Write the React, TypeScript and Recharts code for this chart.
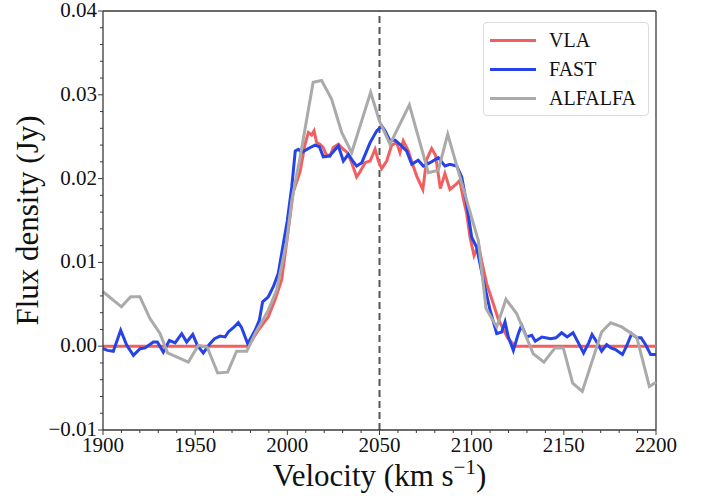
import React from 'react'
import { LineChart, Line, XAxis, YAxis, ReferenceLine } from 'recharts'

// VLA spectrum (km/s, Jy)
const vlaVel = [1900, 1978.8, 1984.2, 1989.7, 1993.3, 1996.9, 2000.5, 2003.2, 2006.9, 2009.6, 2011.4, 2013.2, 2014.5, 2015.9, 2017.7, 2019.5, 2021, 2023.2, 2024.9, 2027.7, 2030.4, 2032.6, 2034.9, 2037.6, 2039.4, 2042.2, 2044.9, 2047.6, 2049.4, 2051.2, 2053.9, 2056.6, 2059.3, 2061.1, 2062.9, 2065.7, 2067.5, 2070.2, 2073.5, 2075.6, 2078.3, 2080.4, 2083, 2085.5, 2088.2, 2091.9, 2093.5, 2095.5, 2097.3, 2099.1, 2101.3, 2103.8, 2105.4, 2108.1, 2111.7, 2114.5, 2117.2, 2119.5, 2123.5, 2200]
const vlaFlux = [0, 0, 0.0019, 0.0035, 0.0055, 0.0079, 0.0138, 0.0184, 0.0208, 0.0241, 0.0255, 0.0252, 0.0257, 0.0243, 0.0241, 0.0237, 0.0229, 0.0227, 0.0237, 0.0241, 0.0235, 0.0231, 0.0219, 0.0202, 0.0208, 0.0219, 0.0221, 0.0235, 0.0221, 0.0212, 0.0221, 0.024, 0.0243, 0.0231, 0.0245, 0.0233, 0.022, 0.0203, 0.0187, 0.0223, 0.0236, 0.0228, 0.0188, 0.0206, 0.0187, 0.0194, 0.0198, 0.0176, 0.0158, 0.013, 0.0108, 0.0121, 0.0102, 0.0075, 0.0051, 0.0032, 0.002, 0.001, 0, 0]

// FAST spectrum
const fastVel = [1900, 1902.5, 1905.6, 1909.6, 1912.9, 1916.5, 1920.1, 1922.8, 1927.3, 1929.5, 1932.7, 1936, 1939.1, 1942.7, 1945.4, 1948.7, 1951.2, 1954.4, 1958, 1960.5, 1963.5, 1966.2, 1968, 1970.7, 1973.4, 1975.2, 1978.5, 1982.5, 1984.8, 1986.6, 1989.7, 1992.4, 1995.1, 1997.5, 2000, 2002.4, 2004.3, 2006, 2007.8, 2011.4, 2015, 2017.4, 2019.5, 2022.8, 2027.7, 2030.4, 2033.1, 2034.9, 2037.6, 2040.4, 2044.9, 2048.5, 2051.2, 2053, 2055.7, 2058.4, 2062, 2064.7, 2067.5, 2071, 2073.8, 2077.4, 2081.9, 2085.5, 2088.2, 2091.9, 2094.6, 2097.3, 2100, 2102.7, 2106.3, 2110, 2113.6, 2116.3, 2118.1, 2119.9, 2122.6, 2125.3, 2127.1, 2129.8, 2132.6, 2134.5, 2138.1, 2142.9, 2145.7, 2148.8, 2151.8, 2155, 2157.9, 2160.7, 2163.5, 2165.3, 2167.6, 2170.5, 2173.2, 2175.6, 2178, 2181.8, 2184, 2186.8, 2189.6, 2191.9, 2194.3, 2197.1, 2200]
const fastFlux = [-0.0003, -0.0005, -0.0006, 0.0019, 0.0001, -0.0011, -0.0003, -0.0002, 0.0005, 0.0005, -0.0007, 0.0007, 0.0004, 0.0015, 0.0005, 0.0014, 0.0001, -0.0008, 0.0003, 0.0009, 0.0012, 0.0011, 0.0017, 0.0022, 0.0028, 0.0022, 0.0003, 0.0019, 0.0031, 0.0053, 0.0059, 0.0071, 0.0087, 0.0118, 0.015, 0.019, 0.0233, 0.0235, 0.0231, 0.0236, 0.024, 0.0238, 0.0226, 0.0227, 0.0239, 0.0221, 0.0229, 0.0223, 0.0215, 0.0219, 0.0243, 0.0257, 0.0263, 0.0257, 0.0245, 0.0246, 0.0239, 0.0233, 0.0217, 0.0222, 0.0215, 0.0219, 0.0225, 0.0215, 0.0217, 0.0215, 0.0202, 0.017, 0.013, 0.0118, 0.0079, 0.0043, 0.0015, 0.0017, 0.0029, 0.0011, -0.0005, 0.0015, 0.0025, 0.0011, 0.0013, 0.0006, 0.0011, 0.0009, 0.001, 0.0016, 0.0011, 0.0016, 0.0004, -0.0008, 0.0004, 0.0014, 0.0006, -0.0006, 0.0002, -0.0002, -0.0004, -0.001, 0, 0.0015, 0.001, 0.001, 0.0002, -0.001, -0.001]

// ALFALFA spectrum
const alfaVel = [1900, 1910, 1915, 1920, 1925.5, 1931, 1935, 1946.3, 1951.7, 1956.5, 1962.2, 1967.6, 1972.5, 1978, 1982.5, 1989.7, 1994.2, 1999.6, 2002.4, 2006.9, 2014, 2018.6, 2024, 2029.5, 2034.9, 2045.2, 2049.9, 2055.7, 2066.2, 2076.5, 2081.9, 2087, 2097.3, 2103.6, 2107.8, 2113.6, 2118.6, 2124.4, 2133.4, 2139.2, 2145.2, 2149.7, 2154.8, 2160, 2170.5, 2175.4, 2181.4, 2189.5, 2196.4, 2200]
const alfaFlux = [0.0065, 0.0047, 0.0059, 0.0059, 0.0033, 0.0015, -0.0008, -0.0019, 0.0001, -0.0001, -0.0032, -0.0031, -0.0006, -0.0006, 0.0015, 0.0043, 0.0067, 0.0125, 0.0174, 0.0225, 0.0315, 0.0317, 0.0295, 0.0255, 0.0231, 0.0303, 0.0269, 0.0241, 0.0288, 0.0207, 0.021, 0.0253, 0.0174, 0.0126, 0.0045, 0.0023, 0.0056, 0.0039, -0.0009, -0.0019, -0.0002, -0.0002, -0.0044, -0.0054, 0.0017, 0.0028, 0.0023, 0.0011, -0.0048, -0.0043]

const xTicks = [1900, 1910, 1920, 1930, 1940, 1950, 1960, 1970, 1980, 1990, 2000, 2010, 2020, 2030, 2040, 2050, 2060, 2070, 2080, 2090, 2100, 2110, 2120, 2130, 2140, 2150, 2160, 2170, 2180, 2190, 2200]
const xMajor = [1900, 1950, 2000, 2050, 2100, 2150, 2200]
const yTicks = [-0.01, -0.008, -0.006, -0.004, -0.002, 0, 0.002, 0.004, 0.006, 0.008, 0.01, 0.012, 0.014, 0.016, 0.018, 0.02, 0.022, 0.024, 0.026, 0.028, 0.03, 0.032, 0.034, 0.036, 0.038, 0.04]
const yMajor = [-0.01, 0, 0.01, 0.02, 0.03, 0.04]

const series = [
  { name: 'VLA', color: '#f25f5f', vel: vlaVel, flux: vlaFlux },
  { name: 'FAST', color: '#2443e8', vel: fastVel, flux: fastFlux },
  { name: 'ALFALFA', color: '#aaaaaa', vel: alfaVel, flux: alfaFlux },
]

const zip = (vel: number[], flux: number[]) => vel.map((v, i) => ({ v, f: flux[i] }))

const FONT = '"Liberation Serif", "DejaVu Serif", serif'
const AXIS = '#3a3a3a'

function XTick(props: any) {
  const { x, y, payload } = props
  const major = xMajor.includes(payload.value)
  return (
    <g>
      <line x1={x} y1={y} x2={x} y2={y + (major ? 5 : 3)} stroke={AXIS} strokeWidth={1} />
      {major && (
        <text x={x} y={y + 22} textAnchor="middle" fontFamily={FONT} fontSize={21} fill="#111">
          {payload.value}
        </text>
      )}
    </g>
  )
}

function YTick(props: any) {
  const { x, y, payload } = props
  const major = yMajor.some((m) => Math.abs(m - payload.value) < 1e-9)
  const label = payload.value < 0 ? '\u2212' + Math.abs(payload.value).toFixed(2) : payload.value.toFixed(2)
  return (
    <g>
      <line x1={x} y1={y} x2={x - (major ? 5 : 3)} y2={y} stroke={AXIS} strokeWidth={1} />
      {major && (
        <text x={x - 6} y={y + 6} textAnchor="end" fontFamily={FONT} fontSize={21} fill="#111">
          {label}
        </text>
      )}
    </g>
  )
}

function XLabel(props: any) {
  const vb = props.viewBox
  return (
    <text x={vb.x + vb.width / 2} y={486} textAnchor="middle" fontFamily={FONT} fontSize={31} fill="#111">
      <tspan>Velocity (km s</tspan>
      <tspan dy={-12} fontSize={21}>{'\u22121'}</tspan>
      <tspan dy={12}>)</tspan>
    </text>
  )
}

function YLabel(props: any) {
  const vb = props.viewBox
  const cy = vb.y + vb.height / 2
  return (
    <text x={27} y={cy} textAnchor="middle" dominantBaseline="central" transform={`rotate(-90 27 ${cy})`} fontFamily={FONT} fontSize={31} fill="#111">
      Flux density (Jy)
    </text>
  )
}

function LegendBox() {
  return (
    <div
      style={{
        position: 'absolute',
        left: 483,
        top: 22,
        width: 166,
        height: 94,
        border: '1px solid #dcdcdc',
        borderRadius: 4,
        background: 'rgba(255,255,255,0.8)',
        boxSizing: 'border-box',
        padding: '3px 0 0 6px',
        fontFamily: FONT,
        fontSize: 20,
        color: '#111',
      }}
    >
      {series.map((s) => (
        <div key={s.name} style={{ display: 'flex', alignItems: 'center', height: 29 }}>
          <span style={{ display: 'inline-block', width: 46, height: 3, background: s.color, marginRight: 13 }} />
          <span>{s.name}</span>
        </div>
      ))}
    </div>
  )
}

export default function App() {
  return (
    <div style={{ position: 'absolute', left: 0, top: 0, width: 703, height: 497, background: '#fff' }}>
      <LineChart width={703} height={497} margin={{ top: 11, right: 47, bottom: 27, left: 43 }}>
        <XAxis
          type="number"
          dataKey="v"
          domain={[1900, 2200]}
          ticks={xTicks}
          interval={0}
          allowDuplicatedCategory={false}
          tick={<XTick />}
          tickLine={false}
          tickSize={0}
          tickMargin={0}
          height={40}
          stroke={AXIS}
          strokeWidth={1.3}
          label={<XLabel />}
        />
        <YAxis
          type="number"
          dataKey="f"
          domain={[-0.01, 0.04]}
          ticks={yTicks}
          interval={0}
          tick={<YTick />}
          tickLine={false}
          tickSize={0}
          tickMargin={0}
          width={60}
          stroke={AXIS}
          strokeWidth={1.3}
          label={<YLabel />}
        />
        <ReferenceLine y={0.04} stroke={AXIS} strokeWidth={1.3} />
        <ReferenceLine x={2200} stroke={AXIS} strokeWidth={1.3} />
        <ReferenceLine x={2050} stroke="#555" strokeWidth={2} strokeDasharray="7 4" />
        {series.map((s) => (
          <Line
            key={s.name}
            data={zip(s.vel, s.flux)}
            dataKey="f"
            name={s.name}
            type="linear"
            stroke={s.color}
            strokeWidth={3}
            dot={false}
            activeDot={false}
            isAnimationActive={false}
          />
        ))}
      </LineChart>
      <LegendBox />
    </div>
  )
}
